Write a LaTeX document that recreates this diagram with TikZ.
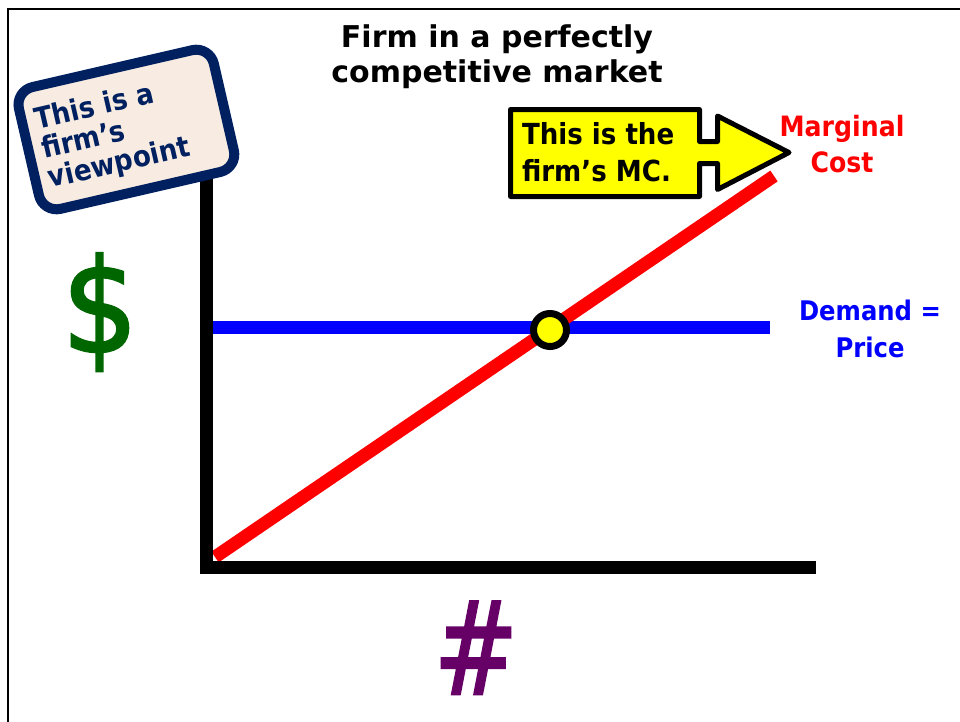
\documentclass[tikz,border=0pt]{standalone}
\usepackage{fontspec}
\usepackage{graphicx}
\setmainfont{DejaVu Sans}
\newfontfamily\nfont{DejaVu Sans}[FakeStretch=0.9]
\newfontfamily\semifont{DejaVu Sans}[FakeBold=2]
\definecolor{navy}{RGB}{0,32,96}
\definecolor{signfill}{RGB}{247,235,226}
\definecolor{dgreen}{RGB}{0,102,0}
\definecolor{dpurple}{RGB}{102,0,102}
\definecolor{pblue}{RGB}{0,0,255}
\definecolor{pred}{RGB}{255,0,0}
\definecolor{pyellow}{RGB}{255,255,0}
\tikzset{
  curve/.style={line width=13pt},
  axisline/.style={line width=12.5pt, line join=miter, black},
  signbox/.style={draw=navy, fill=signfill, line width=10pt, rounded corners=18pt},
  calloutbox/.style={draw=black, fill=pyellow, line width=5pt, line join=round},
  lbl/.style={inner sep=0pt, outer sep=0pt},
}
\begin{document}
\begin{tikzpicture}[x=1pt,y=-1pt]
\useasboundingbox (0,0) rectangle (960,721);
\clip (0,0) rectangle (960,721);
% frame
\draw[line width=2pt] (8,8.5) rectangle (990,760);
% coordinates
\coordinate (O) at (206.5,567.5);
\coordinate (ytop) at (206.5,150);
\coordinate (xend) at (816,567.5);
\coordinate (d0) at (213,327.5);
\coordinate (d1) at (770,327.5);
\coordinate (m0) at (215,557);
\coordinate (m1) at (774,176);
% demand line
\draw[curve, pblue] (d0) -- (d1);
% marginal cost line
\draw[curve, pred] (m0) -- (m1);
% axes
\draw[axisline] (ytop) -- (O) -- (xend);
% equilibrium dot
\node[circle, draw=black, fill=pyellow, line width=7pt, minimum size=33pt, inner sep=0pt] (eq) at (550,330) {};
% sign
\begin{scope}[shift={(126.4,129.5)}, rotate=13]
  \draw[signbox] (-100,-62.5) rectangle (100,62.5);
  \node[lbl, transform shape, align=left, text=navy,
        font={\nfont\bfseries\fontsize{29}{30}\selectfont}] (sign) at (-14.5,2)
        {This is a\\firm’s\\viewpoint};
\end{scope}
% callout
\draw[calloutbox] (510.5,109.5) -- (699.5,109.5) -- (699.5,141.5) -- (717.5,141.5)
  -- (717.5,116) -- (789,152.5) -- (717.5,189.5) -- (717.5,163.5) -- (699.5,163.5)
  -- (699.5,196.5) -- (510.5,196.5) -- cycle;
\node[lbl, anchor=west, align=left,
      font={\nfont\bfseries\fontsize{29}{37}\selectfont}] (callout) at (522,152.4)
      {This is the\\firm’s MC.};
% title
\node[lbl, align=center, font={\bfseries\fontsize{30}{35}\selectfont}] (title) at (497,56.3)
  {Firm in a perfectly\\competitive market};
% curve labels
\node[lbl, align=center, text=pred, font={\nfont\bfseries\fontsize{28}{36.3}\selectfont}] (mclbl) at (842,144.2)
  {Marginal\\Cost};
\node[lbl, align=center, text=pblue, font={\nfont\bfseries\fontsize{27}{37.3}\selectfont}] (dlbl) at (870,329.1)
  {Demand =\\Price};
% axis labels
\node[lbl, anchor=base, text=dgreen, font={\semifont\fontsize{130}{130}\selectfont}] (dollar) at (100,352) {\scalebox{0.92}[1]{\$}};
\node[lbl, anchor=base, text=dpurple, font={\semifont\fontsize{129}{129}\selectfont}] (hash) at (476,694) {\scalebox{0.78}[1]{\#}};
\end{tikzpicture}
\end{document}
